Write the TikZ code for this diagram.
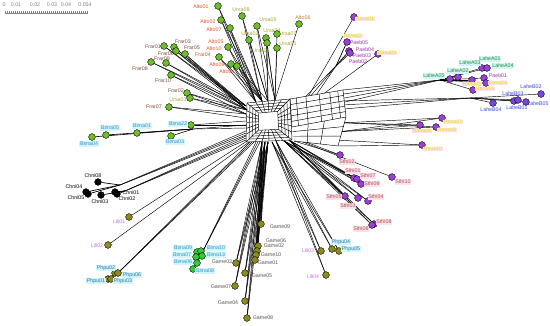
\documentclass[tikz,border=0pt]{standalone}
\usepackage{fontspec}
\setmainfont{Liberation Sans}
\usetikzlibrary{calc}
\pgfdeclarelayer{bg}
\pgfsetlayers{bg,main}
\definecolor{gdot}{HTML}{6DBE2A}
\definecolor{bdot}{HTML}{33CC33}
\definecolor{odot}{HTML}{8C8C1E}
\definecolor{pdot}{HTML}{9B3FD8}
\definecolor{bpdot}{HTML}{7A45E0}
\definecolor{altoc}{HTML}{E8501E}
\definecolor{ursac}{HTML}{A8A030}
\definecolor{frarc}{HTML}{7A4A3A}
\definecolor{bimac}{HTML}{3A8FD0}
\definecolor{cyanbg}{HTML}{D0F6FA}
\definecolor{pinkbg}{HTML}{FCE0F2}
\definecolor{lilic}{HTML}{C070F0}
\definecolor{phpuc}{HTML}{2F6FA8}
\definecolor{gamec}{HTML}{555555}
\definecolor{sthic}{HTML}{B05030}
\definecolor{paebc}{HTML}{9933AA}
\definecolor{laheac}{HTML}{2A8A2A}
\definecolor{lahebc}{HTML}{3344DD}
\definecolor{ratc}{HTML}{E6E600}
\newcommand\leaf[6]{\node[dot,fill=#3] (#1) at (#2) {}; \node[lbl,#5] (#1t) at (#4) {#6};}
\begin{document}
\begin{tikzpicture}[x=1pt,y=-1pt,
  dot/.style={circle,draw=black,line width=0.4pt,inner sep=0pt,minimum size=6.8pt},
  lbl/.style={font=\fontsize{5.3}{5.3}\selectfont,inner sep=0.6pt},
  net/.style={line width=0.45pt,black},
  edge/.style={line width=0.45pt,black},
  alto/.style={text=altoc},
  ursa/.style={text=ursac},
  frar/.style={text=frarc},
  bima/.style={text=bimac,fill=cyanbg},
  chni/.style={text=black},
  lili/.style={text=lilic},
  phpu/.style={text=phpuc,fill=cyanbg},
  game/.style={text=gamec},
  sthi/.style={text=sthic,fill=pinkbg},
  paeb/.style={text=paebc},
  lahea/.style={text=laheac,fill=cyanbg},
  laheb/.style={text=lahebc},
  rat/.style={text=ratc,fill=pinkbg}]
\useasboundingbox (0,0) rectangle (550,326);

% scale bar
\foreach \x/\s in {4/0,16/0.01,35/0.02,52/0.03,66/0.04,85/0.054}{
  \node[lbl,text=gray] (sc\s) at (\x,5) {\s};}
\coordinate (rl) at (5,13); \coordinate (rr) at (88,13);
\draw[gray,line width=0.4pt] (rl) -- (rr);
\foreach \x in {5,7,...,87}{\draw[gray,line width=0.3pt] (\x,13) -- (\x,11.5);}

% ---------- leaves ----------
% top group
\leaf{a01}{218,6}{gdot}{201,7}{alto}{Alto01}
\leaf{a02}{221,20}{gdot}{208,22}{alto}{Alto02}
\leaf{a07}{230,28}{gdot}{214,30}{alto}{Alto07}
\leaf{u09}{242,16}{gdot}{241,10}{ursa}{Ursa09}
\leaf{u05}{257,26}{gdot}{268,20}{ursa}{Ursa05}
\leaf{a06}{299,24}{gdot}{303,18}{text=ursac!60!altoc}{Alto06}
\leaf{u02}{249,40}{gdot}{250,34}{ursa}{Ursa02}
\leaf{u04}{266,38}{gdot}{272,31}{ursa}{Ursa04}
\leaf{u07}{277,34}{gdot}{288,34}{ursa}{Ursa07}
\leaf{u06}{267,43}{gdot}{261,51}{ursa}{Ursa06}
\leaf{u01}{277,48}{gdot}{288,44}{ursa}{Ursa01}
\leaf{a05}{228,47}{gdot}{216,42}{alto}{Alto05}
\leaf{a08}{219,57}{gdot}{214,49}{alto}{Alto10}
\leaf{a09}{231,64}{gdot}{217,65}{alto}{Alto09}
\leaf{a04}{237,66}{gdot}{227,72}{alto}{Alto04}
% Frar
\leaf{f01}{164,46}{gdot}{153,47}{frar}{Frar01}
\leaf{f03}{174,47}{gdot}{183,42}{frar}{Frar03}
\leaf{f05}{176,51}{gdot}{192,48}{frar}{Frar05}
\leaf{f04}{185,54}{gdot}{203,55}{alto}{Frar04}
\leaf{f08}{151,62}{gdot}{140,69}{frar}{Frar08}
\leaf{f09}{166,63}{gdot}{162,59}{frar}{Frar09}
\node[lbl,frar] (f06t) at (166,54) {Frar06};
\leaf{f10}{171,75}{gdot}{163,81}{frar}{Frar10}
\leaf{f02}{187,93}{gdot}{176,91}{frar}{Frar02}
\leaf{u03}{190,98}{gdot}{178,100}{ursa}{Ursa03}
\leaf{f07}{169,107}{gdot}{154,107}{frar}{Frar07}
% Bima upper
\leaf{b22}{191,125}{gdot}{178,124}{bima}{Bima22}
\leaf{b04}{92,137}{gdot}{89,144}{bima}{Bima04}
\leaf{b05}{106,135}{gdot}{110,128}{bima}{Bima05}
\leaf{b01}{137,133}{gdot}{142,126}{bima}{Bima01}
\leaf{b03}{171,136}{gdot}{175,142}{bima}{Bima03}
% Chni
\leaf{c08}{98,182}{black}{93,176}{chni}{Chni08}
\leaf{c05}{88,194}{black}{76,198}{chni}{Chni05}
\leaf{c04}{86,192}{black}{74,187}{chni}{Chni04}
\leaf{c03}{101,195}{black}{100,202}{chni}{Chni03}
\leaf{c01}{115,192}{black}{131,193}{chni}{Chni01}
\leaf{c02}{117,194}{black}{127,199}{chni}{Chni02}
% Lili / Phpu left
\leaf{l01}{129,217}{odot}{119,222}{lili}{Lili01}
\leaf{l02}{108,245}{odot}{97,246}{lili}{Lili02}
\leaf{p02}{115,273}{odot}{106,268}{phpu}{Phpu02}
\leaf{p06}{118,273}{odot}{132,275}{phpu}{Phpu06}
\leaf{p01}{108,279}{odot}{96,281}{phpu}{Phpu01}
\leaf{p03}{111,279}{odot}{123,281}{phpu}{Phpu03}
% Bima lower
\leaf{b09}{197,252}{bdot}{183,248}{bima}{Bima09}
\leaf{b10}{201,251}{bdot}{216,248}{bima}{Bima10}
\leaf{b13}{202,256}{bdot}{216,255}{bima}{Bima13}
\leaf{b07}{196,257}{bdot}{182,255}{bima}{Bima07}
\leaf{b06}{197,263}{bdot}{183,262}{bima}{Bima06}
\leaf{b08}{193,269}{bdot}{205,271}{bima}{Bima08}
% Game
\leaf{g09}{261,224}{odot}{280,227}{game}{Game09}
\leaf{g06}{258,246}{odot}{276,241}{game}{Game06}
\leaf{g02}{257,251}{odot}{274,246}{game}{Game02}
\leaf{g10}{256,255}{odot}{271,255}{game}{Game10}
\leaf{g01}{255,260}{odot}{268,263}{game}{Game01}
\leaf{g03}{236,263}{odot}{222,262}{game}{Game03}
\leaf{g05}{245,273}{odot}{262,276}{game}{Game05}
\leaf{g07}{235,286}{odot}{221,287}{game}{Game07}
\leaf{g04}{245,301}{odot}{228,303}{game}{Game04}
\leaf{g08}{247,318}{odot}{263,318}{game}{Game08}
% Lili / Phpu right
\leaf{l03}{321,251}{odot}{308,251}{lili}{Lili03}
\leaf{p04}{332,249}{odot}{341,242}{phpu}{Phpu04}
\leaf{p05}{339,251}{odot}{351,249}{phpu}{Phpu05}
\leaf{l04}{326,275}{odot}{313,277}{lili}{Lili04}
% Sthi
\leaf{s02}{340,155}{pdot}{347,162}{sthi}{Sthi02}
\leaf{s01}{354,178}{pdot}{353,171}{sthi}{Sthi01}
\leaf{s07}{357,179}{pdot}{368,176}{sthi}{Sthi07}
\leaf{s09}{361,184}{pdot}{372,184}{sthi}{Sthi09}
\leaf{s10}{392,177}{pdot}{403,182}{sthi}{Sthi10}
\leaf{s05}{345,196}{pdot}{334,197}{sthi}{Sthi05}
\leaf{s03}{358,198}{pdot}{348,206}{sthi}{Sthi03}
\leaf{s04}{368,201}{pdot}{376,197}{sthi}{Sthi04}
\leaf{s08}{374,224}{pdot}{384,222}{sthi}{Sthi08}
\leaf{s06}{372,225}{pdot}{361,229}{sthi}{Sthi06}
% Paeb and others
\leaf{r1}{354,17}{pdot}{365,19}{rat}{Rasa01}
\node[lbl,rat] (r0t) at (353,36) {Rasa02};
\leaf{pb05}{347,42}{pdot}{359,43}{paeb}{Paeb05}
\leaf{pb04}{349,51}{pdot}{365,50}{paeb}{Paeb04}
\leaf{pb03}{350,53}{pdot}{362,56}{paeb}{Paeb03}
\node[lbl,paeb] (pb02t) at (358,62) {Paeb02};
\leaf{r2}{378,54}{pdot}{387,53}{rat}{Rasa03}
% Lahe A
\leaf{la01}{482,68}{pdot}{490,59}{lahea}{LaheA01}
\leaf{la04}{487,68}{pdot}{503,66}{lahea}{LaheA04}
\node[lbl,lahea] (la03t) at (470,63) {LaheA03};
\leaf{la05}{450,79}{pdot}{434,76}{lahea}{LaheA05}
\leaf{la02}{458,77}{pdot}{458,71}{lahea}{LaheA02}
\leaf{pb01}{484,78}{pdot}{498,76}{paeb}{Paeb01}
\leaf{r3}{486,83}{pdot}{498,83}{rat}{Rasa04}
\leaf{r4}{472,80}{pdot}{472,84}{rat}{Rasa05}
\leaf{r5}{473,90}{pdot}{485,89}{rat}{Rasa06}
% Lahe B
\leaf{lb02}{541,94}{bpdot}{531,87}{laheb}{LaheB02}
\leaf{lb03}{514,101}{bpdot}{513,94}{laheb}{LaheB03}
\leaf{lb01}{518,100}{bpdot}{517,108}{laheb}{LaheB01}
\leaf{lb05}{526,102}{bpdot}{538,104}{laheb}{LaheB05}
\leaf{lb04}{493,103}{bpdot}{491,110}{laheb}{LaheB04}
% Rat
\leaf{r6}{442,118}{pdot}{453,122}{rat}{Rasa07}
\leaf{r7}{420,125}{pdot}{422,131}{rat}{Rasa08}
\leaf{r8}{436,127}{pdot}{447,130}{rat}{Rasa09}
\leaf{r9}{422,145}{pdot}{433,149}{rat}{Rasa10}

% ---------- network ----------
\begin{pgfonlayer}{bg}
% central mesh: nested rings joined by spokes
\coordinate (A1) at (247,103); \coordinate (A2) at (290,99);
\coordinate (A3) at (292,140); \coordinate (A4) at (246,142);
\coordinate (AC) at (268,121);
\foreach \s in {1,0.86,0.72,0.58,0.44}{
  \draw[net] ($(AC)!\s!(A1)$) -- ($(AC)!\s!(A2)$) -- ($(AC)!\s!(A3)$) -- ($(AC)!\s!(A4)$) -- cycle;}
\foreach \t in {0,0.2,0.35,0.5,0.65,0.8}{
  \draw[net] ($(A1)!\t!(A2)$) -- ($($(AC)!0.44!(A1)$)!\t!($(AC)!0.44!(A2)$)$);
  \draw[net] ($(A2)!\t!(A3)$) -- ($($(AC)!0.44!(A2)$)!\t!($(AC)!0.44!(A3)$)$);
  \draw[net] ($(A3)!\t!(A4)$) -- ($($(AC)!0.44!(A3)$)!\t!($(AC)!0.44!(A4)$)$);
  \draw[net] ($(A4)!\t!(A1)$) -- ($($(AC)!0.44!(A4)$)!\t!($(AC)!0.44!(A1)$)$);}
\coordinate (B1) at (290,99); \coordinate (B2) at (343,90);
\coordinate (B3) at (346,117); \coordinate (B4) at (292,127);
\foreach \t in {0,0.2,0.4,0.6,0.8,1}{
  \draw[net] ($(B1)!\t!(B4)$) -- ($(B2)!\t!(B3)$);}
\foreach \t in {0,0.12,0.3,0.55,0.75,0.9,1}{
  \draw[net] ($(B1)!\t!(B2)$) -- ($(B4)!\t!(B3)$);}
\coordinate (C3) at (338,146); \coordinate (C4) at (294,141);
\foreach \t in {0.33,0.66,1}{
  \draw[net] ($(B4)!\t!(C4)$) -- ($(B3)!\t!(C3)$);}
\foreach \t in {0.3,0.6,1}{
  \draw[net] ($(B4)!\t!(B3)$) -- ($(C4)!\t!(C3)$);}

% top group
\coordinate (T1) at (256,102); \coordinate (T2) at (262,101);
\coordinate (T3) at (268,101); \coordinate (T4) at (275,100);
\foreach \n in {a01,a02,a07,a05,a08,a09}{\draw[edge] (T1) -- (\n); \draw[edge] (T2) -- (\n);}
\foreach \n in {u09,u02,a04}{\draw[edge] (T2) -- (\n); \draw[edge] (T3) -- (\n);}
\foreach \n in {u05,u04,u06}{\draw[edge] (T3) -- (\n); \draw[edge] (T4) -- (\n);}
\foreach \n in {a06,u07,u01}{\draw[edge] (T4) -- (\n);}
% Frar
\coordinate (F1) at (246,106); \coordinate (F2) at (247,110);
\coordinate (F3) at (246,114); \coordinate (F4) at (246,118);
\foreach \n in {f01,f03,f05,f04,f08,f09}{\draw[edge] (F1) -- (\n); \draw[edge] (F2) -- (\n);}
\foreach \n in {f10,f02,u03}{\draw[edge] (F2) -- (\n); \draw[edge] (F3) -- (\n);}
\draw[edge] (F3) -- (f07); \draw[edge] (F4) -- (f07);
% Bima upper
\coordinate (BJ) at (193,129); \coordinate (H1) at (246,121);
\coordinate (H2) at (246,125); \coordinate (H3) at (246,128);
\draw[edge] (H1) -- (b22); \draw[edge] (H2) -- (b22);
\draw[edge] (H2) -- (BJ); \draw[edge] (H3) -- (BJ);
\foreach \n in {b03,b01,b05,b04}{\draw[edge,line width=0.6pt] (BJ) -- (\n);}
% Chni
\coordinate (CJ1) at (120,185); \coordinate (CJ2) at (125,191);
\foreach \h in {131,133,135}{\draw[edge] (246,\h) coordinate (ch\h) -- (CJ1);}
\foreach \h in {136,138,140}{\draw[edge] (246,\h) coordinate (ci\h) -- (CJ2);}
\foreach \n in {c08,c04,c05}{\draw[edge,line width=0.7pt] (CJ1) -- (\n);}
\foreach \n in {c03,c01,c02}{\draw[edge,line width=0.7pt] (CJ2) -- (\n);}
% Lili / Phpu left
\coordinate (L1) at (247,141); \coordinate (L2) at (249,142);
\draw[edge] (L1) -- (l01); \draw[edge] (L2) -- (l02);
\coordinate (PJ) at (120,271);
\foreach \h in {250,252,254}{\draw[edge] (\h,142) coordinate (ph\h) -- (PJ);}
\foreach \n in {p02,p06,p01,p03}{\draw[edge] (PJ) -- (\n);}
% Bima lower
\coordinate (BL) at (204,249);
\foreach \h in {256,258,260}{\draw[edge] (\h,142) coordinate (bh\h) -- (BL);}
\foreach \n in {b09,b10,b13,b07,b06,b08}{\draw[edge] (BL) -- (\n);}
% Game
\coordinate (G1) at (262,142); \coordinate (G2) at (265,142); \coordinate (G3) at (268,142);
\foreach \n in {g09,g06,g02,g10,g01,g03,g05,g07,g04,g08}{
  \draw[edge] (G1) -- (\n); \draw[edge] (G2) -- (\n); \draw[edge] (G3) -- (\n);}
% Lili / Phpu right
\coordinate (R1) at (272,142); \coordinate (R2) at (276,141);
\foreach \n in {l03,p04,p05,l04}{\draw[edge] (R1) -- (\n); \draw[edge] (R2) -- (\n);}
% Sthi
\coordinate (S1) at (284,141); \coordinate (S2) at (289,140); \coordinate (S3) at (294,141);
\foreach \n in {s01,s07,s09,s05,s03,s04,s08,s06}{\draw[edge] (S1) -- (\n); \draw[edge] (S2) -- (\n);}
\draw[edge] (S3) -- (s02); \draw[edge] ($(C4)!0.3!(C3)$) -- (s02);
\draw[edge] ($(C4)!0.2!(C3)$) -- (s10);
% Rat
\foreach \n in {r6,r7,r8}{\draw[edge] ($(B3)!0.2!(C3)$) -- (\n); \draw[edge] ($(B3)!0.5!(C3)$) -- (\n);}
\draw[edge] ($(B3)!0.8!(C3)$) -- (r9); \draw[edge] (C3) -- (r9);
% Paeb
\coordinate (PB) at (336,66);
\foreach \t in {0.3,0.4,0.5}{\draw[edge] ($(B1)!\t!(B2)$) -- (PB);}
\foreach \n in {pb05,pb04,pb03}{\draw[edge,line width=0.7pt] (PB) -- (\n);}
\draw[edge] ($(B1)!0.35!(B2)$) -- (r1);
\draw[edge] ($(B1)!0.65!(B2)$) -- (r2);
% Lahe
\coordinate (LA) at (440,80); \coordinate (LB) at (470,98);
\foreach \t in {0,0.15,0.3,0.45}{\draw[edge] ($(B2)!\t!(B3)$) -- (LA);}
\foreach \t in {0.4,0.55,0.7}{\draw[edge] ($(B2)!\t!(B3)$) -- (LB);}
\foreach \n in {la01,la04,la05,la02,pb01,r3,r4,r5}{\draw[edge] (LA) -- (\n);}
\foreach \n in {lb02,lb03,lb01,lb05,lb04}{\draw[edge] (LB) -- (\n);}
\end{pgfonlayer}
\end{tikzpicture}
\end{document}
